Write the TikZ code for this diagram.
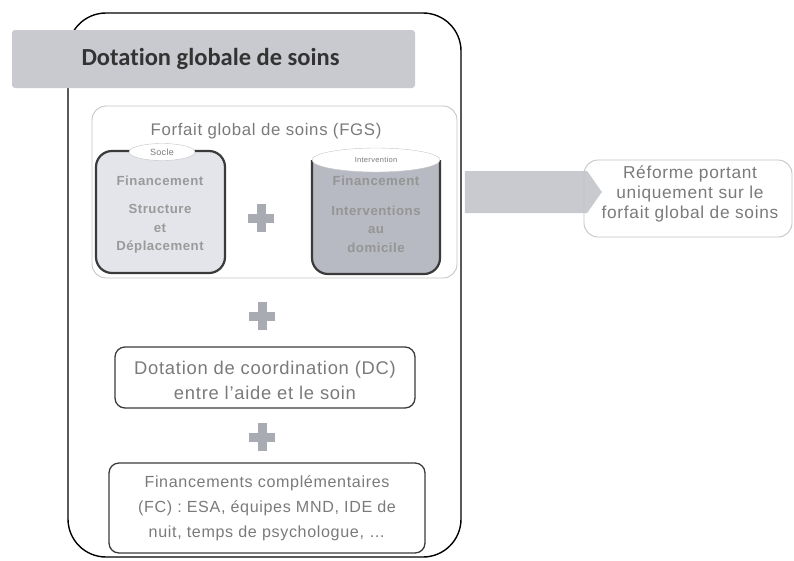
\documentclass[tikz,border=0pt]{standalone}
\usepackage{fontspec}
\setmainfont[LetterSpace=4]{Liberation Sans}
\newfontfamily\calibri[Ligatures=NoCommon]{Carlito}
\usetikzlibrary{shapes.geometric,shapes.arrows}
\definecolor{bannergray}{HTML}{C9CACF}
\definecolor{soclefill}{HTML}{E3E5EB}
\definecolor{intfill}{HTML}{B7BAC2}
\definecolor{boxline}{HTML}{3A3A3A}
\definecolor{lightline}{HTML}{C4C4C4}
\definecolor{txtgray}{HTML}{7A7A7A}
\definecolor{boldgray}{HTML}{9A9A9A}
\definecolor{plusgray}{HTML}{A9ABB2}
\begin{document}
\begin{tikzpicture}[x=1pt,y=-1pt,
  softbox/.style={draw=lightline,line width=0.9pt,rounded corners=14pt},
  darkbox/.style={draw=boxline,line width=1.3pt,rounded corners=10pt},
  bodytxt/.style={text=txtgray,align=center},
  boldtxt/.style={text=boldgray,font=\bfseries\fontsize{13.2}{18.5}\selectfont,align=center},
  plussign/.style={fill=plusgray,draw=none}
]
\useasboundingbox (0,0) rectangle (794,560);
% outer box
\draw[line width=1.4pt,rounded corners=38pt] (68,13) rectangle (461,557);
\node[coordinate] (outer) at (264,285) {};
% banner
\fill[bannergray,rounded corners=3pt] (12,30) rectangle (415,88);
\node[anchor=west,text=black!80,font=\calibri\bfseries\fontsize{24.5}{28}\selectfont] (banner) at (78,59) {Dotation globale de soins};
% FGS box
\draw[softbox] (92,106) rectangle (457,278);
\node[text=txtgray,font=\fontsize{16.8}{20}\selectfont] (fgs) at (266,131) {Forfait global de soins (FGS)};
% socle box
\draw[draw=boxline,line width=2.2pt,fill=soclefill,rounded corners=16pt] (96,151) rectangle (225,273);
\node[ellipse,draw=lightline,fill=white,minimum width=66pt,minimum height=17pt,inner sep=0pt,
  text=txtgray,font=\fontsize{9}{10}\selectfont] (socle) at (162,152) {Socle};
\node[boldtxt] (soclefin) at (160,181) {Financement};
\node[boldtxt] (socletxt) at (160,229) {Structure\\et\\Déplacement};
% intervention cylinder
\draw[draw=boxline,line width=2.2pt,fill=intfill,rounded corners=16pt]
  (312,160) -- (312,274) -- (440,274) -- (440,160);
\node[ellipse,draw=lightline,fill=white,minimum width=128pt,minimum height=24pt,inner sep=0pt,
  text=txtgray,font=\fontsize{7.5}{8}\selectfont] (interv) at (376,160) {Intervention};
\node[boldtxt,text=txtgray!80] (intfin) at (376,181) {Financement};
\node[boldtxt,text=txtgray!80] (inttxt) at (376,229) {Interventions\\au\\domicile};
% plus signs
\foreach \n/\px/\py in {p1/261/218,p2/262/316,p3/262/437}{
  \node[coordinate] (\n) at (\px,\py) {};
  \fill[plussign] (\px-4.5,\py-14) rectangle (\px+4.5,\py+14);
  \fill[plussign] (\px-13,\py-4.5) rectangle (\px+13,\py+4.5);
}
% arrow
\node[single arrow,fill=bannergray,draw=none,minimum width=42pt,minimum height=137pt,
  single arrow head extend=0pt,single arrow tip angle=110,inner sep=0pt] (arrow) at (526,192) {};
% reforme box
\draw[softbox] (584,160) rectangle (792,237);
\node[text=txtgray,align=center,font=\fontsize{17.3}{20}\selectfont] (reforme) at (690,194)
  {Réforme portant\\uniquement sur le\\forfait global de soins};
% DC box
\draw[darkbox] (115,347) rectangle (415,408);
\node[bodytxt,font=\fontsize{18.4}{25}\selectfont] (dc) at (265,380) {Dotation de coordination (DC)\\entre l'aide et le soin};
% FC box
\draw[darkbox] (109,463) rectangle (425,553);
\node[bodytxt,font=\fontsize{16.1}{25}\selectfont] (fc) at (267,508) {Financements complémentaires\\(FC) : ESA, équipes MND, IDE de\\nuit, temps de psychologue, \dots};
\end{tikzpicture}
\end{document}
